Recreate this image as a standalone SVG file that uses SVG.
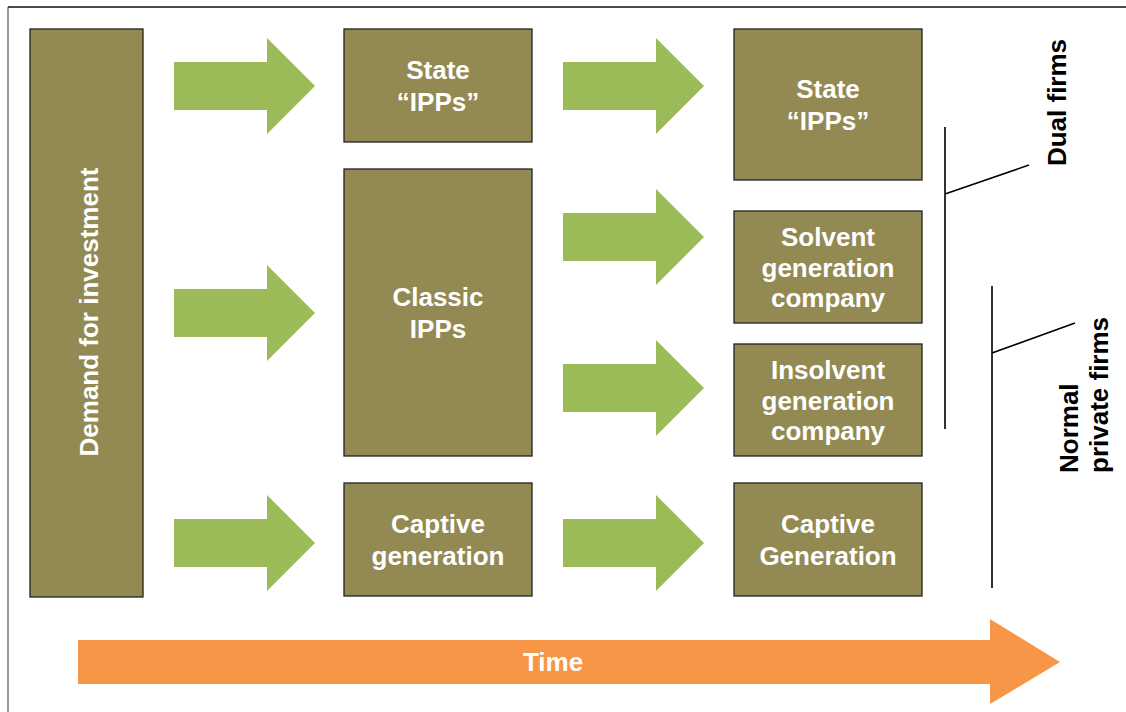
<svg xmlns="http://www.w3.org/2000/svg" width="1126" height="712" viewBox="0 0 1126 712">
  <style>
    .box { fill: #938953; stroke: #222; stroke-width: 1.3; }
    .lbl { font-family: "Liberation Sans", Arial, sans-serif; font-weight: bold; font-size: 26px; fill: #fff; text-anchor: middle; }
    .side { font-family: "Liberation Sans", Arial, sans-serif; font-weight: bold; font-size: 26px; fill: #000; }
    .flow { fill: #9BBB59; }
    .brace { stroke: #000; stroke-width: 1.6; fill: none; }
  </style>
  <defs>
    <!-- block arrow, tip at (0,0), pointing right -->
    <polygon id="blk" points="-141,-24 -48,-24 -48,-48 0,0 -48,48 -48,24 -141,24"/>
  </defs>
  <rect width="1126" height="712" fill="#fff"/>
  <!-- frame -->
  <path d="M8,712 V7" stroke="#777" stroke-width="1.5" fill="none"/>
  <path d="M8,7 H1126" stroke="#111" stroke-width="1.5" fill="none"/>

  <g id="demand">
    <rect class="box" x="30" y="29" width="113" height="568"/>
    <text class="lbl" transform="translate(98,312) rotate(-90)">Demand for investment</text>
  </g>

  <g id="state-ipps-1">
    <rect class="box" x="344" y="29" width="188" height="113"/>
    <text class="lbl" x="438" y="78.5">State</text>
    <text class="lbl" x="438" y="110.5">“IPPs”</text>
  </g>
  <g id="classic-ipps">
    <rect class="box" x="344" y="169" width="188" height="287"/>
    <text class="lbl" x="438" y="305.5">Classic</text>
    <text class="lbl" x="438" y="337.5">IPPs</text>
  </g>
  <g id="captive-1">
    <rect class="box" x="344" y="483" width="188" height="113"/>
    <text class="lbl" x="438" y="532.5">Captive</text>
    <text class="lbl" x="438" y="564.5">generation</text>
  </g>

  <g id="state-ipps-2">
    <rect class="box" x="734" y="29" width="188" height="151"/>
    <text class="lbl" x="828" y="97.5">State</text>
    <text class="lbl" x="828" y="129.5">“IPPs”</text>
  </g>
  <g id="solvent">
    <rect class="box" x="734" y="211" width="188" height="112"/>
    <text class="lbl" x="828" y="246">Solvent</text>
    <text class="lbl" x="828" y="276.5">generation</text>
    <text class="lbl" x="828" y="307">company</text>
  </g>
  <g id="insolvent">
    <rect class="box" x="734" y="344" width="188" height="112"/>
    <text class="lbl" x="828" y="379">Insolvent</text>
    <text class="lbl" x="828" y="409.5">generation</text>
    <text class="lbl" x="828" y="440">company</text>
  </g>
  <g id="captive-2">
    <rect class="box" x="734" y="483" width="188" height="113"/>
    <text class="lbl" x="828" y="532.5">Captive</text>
    <text class="lbl" x="828" y="564.5">Generation</text>
  </g>

  <g id="connectors">
    <use href="#blk" class="flow" x="315" y="86"/>
    <use href="#blk" class="flow" x="315" y="313"/>
    <use href="#blk" class="flow" x="315" y="543"/>
    <use href="#blk" class="flow" x="704" y="86"/>
    <use href="#blk" class="flow" x="704" y="237"/>
    <use href="#blk" class="flow" x="704" y="388"/>
    <use href="#blk" class="flow" x="704" y="543"/>
  </g>

  <g id="dual-firms">
    <path class="brace" d="M945,127 V429 M945,194 L1029,165"/>
    <text class="side" text-anchor="middle" transform="translate(1066,102.5) rotate(-90)">Dual firms</text>
  </g>
  <g id="normal-private">
    <path class="brace" d="M992,286 V588 M992,353 L1075,323"/>
    <text class="side" transform="translate(1078,473) rotate(-90)"><tspan x="0" y="0">Normal</tspan><tspan x="0" y="29.5">private firms</tspan></text>
  </g>

  <g id="time">
    <polygon fill="#F79646" points="78,640 990,640 990,619 1060,662 990,704 990,684 78,684"/>
    <text class="lbl" x="553" y="671">Time</text>
  </g>
</svg>
